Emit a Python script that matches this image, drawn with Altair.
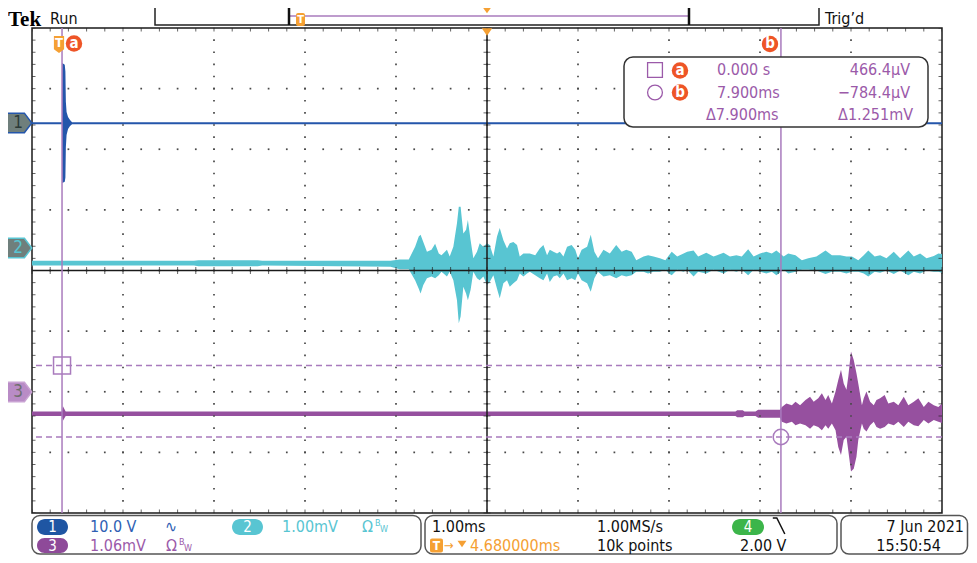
import altair as alt
import pandas as pd

# ---------------- values ----------------
T_LEFT, T_RIGHT = -0.33, 9.67          # ms at left / right edge of the graticule
DIV_LO, DIV_HI = -4, 4                 # vertical divisions

CH1_POS, CH1_SCALE = 2.434, 10.0       # position (div), V/div
CH2_POS, CH2_SCALE = 0.371, 1.00       # position (div), mV/div
CH3_POS, CH3_SCALE = -2.005, 1.06      # position (div), mV/div

# Channel 1 (V) - envelope of the displayed trace
ch1_t = [-0.33, 0.000, 0.002, 0.030, 0.037, 0.042, 0.050, 0.066, 0.088, 0.110, 9.67]
ch1_hi = [0.1, 0.1, 9.9, 9.6, 8.5, 3.5, 1.8, 1.0, 0.5, 0.1, 0.1]
ch1_lo = [-0.2, -0.2, -9.9, -9.7, -9.0, -4.0, -2.0, -1.0, -0.5, -0.2, -0.2]

# Channel 2 (mV) - envelope
ch2_t = [-0.33, 1.45, 1.50, 2.15, 2.20, 3.61, 3.71, 3.81, 3.88, 3.92, 3.94, 3.97, 4.01, 4.06,
         4.10, 4.14, 4.17, 4.23, 4.26, 4.30, 4.34, 4.36, 4.38, 4.41, 4.44, 4.46, 4.49, 4.52,
         4.56, 4.59, 4.63, 4.67, 4.70, 4.74, 4.78, 4.81, 4.85, 4.89, 4.92, 4.96, 5.00, 5.03,
         5.07, 5.11, 5.14, 5.20, 5.25, 5.29, 5.33, 5.36, 5.40, 5.44, 5.47, 5.51, 5.55, 5.60,
         5.64, 5.67, 5.71, 5.77, 5.81, 5.85, 5.89, 5.95, 6.02, 6.09, 6.15, 6.20, 6.26, 6.31,
         6.39, 6.44, 6.50, 6.57, 6.63, 6.67, 6.70, 6.76, 6.83, 6.87, 6.94, 6.99, 7.08, 7.16,
         7.27, 7.34, 7.41, 7.47, 7.54, 7.60, 7.67, 7.74, 7.80, 7.85, 7.93, 7.98, 8.06, 8.13,
         8.20, 8.29, 8.39, 8.46, 8.55, 8.62, 8.68, 8.75, 8.81, 8.86, 8.93, 8.99, 9.06, 9.14,
         9.21, 9.30, 9.36, 9.43, 9.50, 9.58, 9.63, 9.67]
ch2_hi = [-0.21, -0.21, -0.20, -0.20, -0.21, -0.21, -0.19, -0.19, 0.02, 0.19, 0.22, 0.10, -0.06, -0.03,
          0.07, -0.09, -0.12, -0.03, -0.14, 0.02, 0.41, 0.68, 0.68, 0.24, 0.30, 0.46, 0.13, -0.17,
          -0.06, 0.08, 0.02, 0.08, 0.05, -0.14, 0.19, 0.33, 0.13, -0.01, 0.08, 0.10, 0.05, -0.14,
          -0.09, -0.09, -0.09, -0.12, -0.01, 0.05, -0.12, -0.03, -0.06, -0.09, -0.06, -0.14, 0.02, 0.05,
          -0.03, -0.17, -0.03, 0.02, 0.22, -0.06, -0.17, -0.03, -0.09, 0.05, -0.06, -0.03, -0.06, -0.20,
          -0.14, -0.12, -0.14, -0.17, -0.20, -0.12, -0.06, -0.14, -0.09, -0.06, -0.04, -0.14, -0.08, -0.14,
          -0.08, -0.14, -0.12, -0.14, -0.02, -0.14, -0.09, -0.06, -0.09, -0.04, -0.14, -0.09, -0.12, -0.20,
          -0.17, -0.14, -0.04, -0.12, -0.12, -0.14, -0.14, -0.20, -0.12, -0.04, -0.14, -0.12, -0.17, -0.06,
          -0.17, -0.04, -0.14, -0.09, -0.17, -0.13, -0.09, -0.10]
ch2_lo = [-0.29, -0.29, -0.30, -0.30, -0.29, -0.31, -0.35, -0.35, -0.53, -0.67, -0.75, -0.61, -0.50, -0.47,
          -0.50, -0.45, -0.39, -0.47, -0.39, -0.53, -0.86, -1.24, -1.13, -0.64, -0.75, -0.86, -0.69, -0.39,
          -0.50, -0.53, -0.47, -0.61, -0.56, -0.45, -0.67, -0.83, -0.58, -0.53, -0.64, -0.58, -0.53, -0.42,
          -0.47, -0.42, -0.39, -0.45, -0.50, -0.53, -0.42, -0.56, -0.47, -0.45, -0.50, -0.42, -0.53, -0.50,
          -0.53, -0.42, -0.53, -0.58, -0.72, -0.50, -0.39, -0.47, -0.45, -0.50, -0.45, -0.47, -0.45, -0.39,
          -0.39, -0.42, -0.39, -0.39, -0.36, -0.42, -0.45, -0.36, -0.39, -0.36, -0.47, -0.39, -0.42, -0.36,
          -0.42, -0.36, -0.39, -0.36, -0.45, -0.36, -0.39, -0.42, -0.39, -0.45, -0.36, -0.42, -0.39, -0.36,
          -0.36, -0.37, -0.43, -0.39, -0.39, -0.42, -0.39, -0.39, -0.42, -0.47, -0.39, -0.41, -0.37, -0.43,
          -0.37, -0.45, -0.39, -0.42, -0.37, -0.39, -0.39, -0.41]

# Channel 3 (mV) - envelope
ch3_t = [-0.33, 0.00, 0.01, 0.04, 7.40, 7.42, 7.48, 7.50, 7.62, 7.65, 7.89, 7.91, 7.96, 8.02,
         8.06, 8.11, 8.17, 8.22, 8.26, 8.31, 8.35, 8.39, 8.42, 8.46, 8.50, 8.53, 8.56, 8.59,
         8.62, 8.64, 8.67, 8.70, 8.73, 8.75, 8.79, 8.81, 8.84, 8.88, 8.92, 8.95, 8.99, 9.04,
         9.08, 9.14, 9.19, 9.25, 9.30, 9.36, 9.41, 9.47, 9.52, 9.58, 9.63, 9.67]
ch3_hi = [-0.34, -0.34, -0.25, -0.34, -0.34, -0.32, -0.32, -0.34, -0.34, -0.31, -0.31, -0.26, -0.20, -0.23,
          -0.17, -0.23, -0.14, -0.08, -0.17, -0.11, -0.02, -0.14, -0.05, -0.20, 0.01, 0.21, 0.39, 0.15,
          0.04, 0.27, 0.71, 0.56, 0.33, 0.15, -0.23, -0.11, 0.01, -0.17, -0.23, -0.14, -0.11, -0.05,
          -0.20, -0.17, -0.23, -0.08, -0.23, -0.17, -0.11, -0.26, -0.17, -0.23, -0.26, -0.20]
ch3_lo = [-0.42, -0.42, -0.50, -0.42, -0.42, -0.44, -0.44, -0.42, -0.42, -0.45, -0.45, -0.52, -0.55, -0.52,
          -0.58, -0.55, -0.58, -0.64, -0.58, -0.61, -0.67, -0.58, -0.64, -0.55, -0.67, -0.96, -1.10, -0.84,
          -0.78, -1.02, -1.39, -1.34, -1.13, -0.84, -0.55, -0.64, -0.69, -0.58, -0.52, -0.61, -0.64, -0.61,
          -0.55, -0.58, -0.52, -0.61, -0.52, -0.58, -0.60, -0.49, -0.55, -0.49, -0.52, -0.54]

# cursors: times (ms) and channel-3 levels (mV)
cursor_t = [0.0, 7.9]
cursor_v = [0.4664, -0.7844]

# ---------------- styling ----------------
FONT = "DejaVu Sans Condensed, Liberation Sans Narrow, DejaVu Sans, sans-serif"
BLUE, BLUE_DK = "#2456ab", "#1f56a3"
CYAN = "#58c5d2"
PURPLE, PURPLE_BADGE = "#96509f", "#8e4a99"
CURSOR = "#a97bbd"
READ = "#9b5aa9"
ORANGE = "#f5a033"
RED = "#ee5527"
GREEN = "#3cb54a"
OX, OY = 32, 28          # page position of the graticule's top-left corner
W, H = 910, 485
SVG_W, SVG_H = 961, 547  # drawable area inside the page's 8px margins

xs = alt.Scale(domain=[T_LEFT, T_RIGHT], nice=False, zero=False)
ys = alt.Scale(domain=[DIV_LO, DIV_HI], nice=False, zero=False)


def X(f="t"):
    return alt.X(f"{f}:Q", scale=xs, axis=None)


def Y(f="d"):
    return alt.Y(f"{f}:Q", scale=ys, axis=None)


def to_div(vals, pos, scale):
    return [pos + v / scale for v in vals]


def trace(t, hi, lo, pos, scale, color):
    df = pd.DataFrame({"t": t, "hi": to_div(hi, pos, scale), "lo": to_div(lo, pos, scale)})
    return alt.Chart(df).mark_area(color=color, opacity=1, interpolate="linear").encode(
        x=X(), y=Y("hi"), y2="lo:Q")


ONE = pd.DataFrame({"k": [0]})


def txt(s, x, y, color="#111", size=16, align="left", weight="normal", font=FONT, baseline="middle"):
    return alt.Chart(ONE).mark_text(text=s, align=align, baseline=baseline, fontSize=size,
                                    fontWeight=weight, font=font, color=color).encode(
        x=alt.value(x - OX), y=alt.value(y - OY))


def box(x0, y0, x1, y1, fill="white", stroke=None, sw=1.5, r=0):
    kw = dict(fill=fill, cornerRadius=r, opacity=1)
    if stroke:
        kw.update(stroke=stroke, strokeWidth=sw)
    return alt.Chart(ONE).mark_rect(**kw).encode(
        x=alt.value(x0 - OX), x2=alt.value(x1 - OX), y=alt.value(y0 - OY), y2=alt.value(y1 - OY))


def sym(shape, x, y, size, fill=None, stroke=None, sw=1.5):
    if fill:
        mk = alt.Chart(ONE).mark_point(shape=shape, size=size, filled=True, fill=fill, opacity=1,
                                       stroke=stroke or fill, strokeWidth=sw if stroke else 0)
    else:
        mk = alt.Chart(ONE).mark_point(shape=shape, size=size, filled=False, stroke=stroke,
                                       strokeWidth=sw, opacity=1)
    return mk.encode(x=alt.value(x - OX), y=alt.value(y - OY))


def line(x0, y0, x1, y1, color, sw=1.5):
    return alt.Chart(ONE).mark_rule(color=color, strokeWidth=sw).encode(
        x=alt.value(x0 - OX), x2=alt.value(x1 - OX), y=alt.value(y0 - OY), y2=alt.value(y1 - OY))


layers = []

# traces
layers.append(trace(ch2_t, ch2_hi, ch2_lo, CH2_POS, CH2_SCALE, CYAN))
layers.append(trace(ch3_t, ch3_hi, ch3_lo, CH3_POS, CH3_SCALE, PURPLE))
layers.append(trace(ch1_t, ch1_hi, ch1_lo, CH1_POS, CH1_SCALE, BLUE))

# graticule: dotted major lines, solid centre lines with minor ticks, edge ticks
major_t = [round(T_LEFT + k, 3) for k in range(1, 10)]
major_d = [k for k in range(-3, 4)]
minor_t = [round(T_LEFT + 0.2 * k, 3) for k in range(51)]
minor_d = [round(DIV_LO + 0.2 * k, 2) for k in range(41)]
T_CENTER = round(T_LEFT + 5, 3)

dots = pd.DataFrame([(t, d) for t in major_t for d in minor_d] +
                    [(t, d) for d in major_d for t in minor_t], columns=["t", "d"])
layers.append(alt.Chart(dots).mark_square(size=3, color="#4a4a4a", opacity=1).encode(x=X(), y=Y()))
layers.append(alt.Chart(pd.DataFrame({"t": [T_CENTER]})).mark_rule(color="#1a1a1a", strokeWidth=1.5)
              .encode(x=X()))
layers.append(alt.Chart(pd.DataFrame({"d": [0]})).mark_rule(color="#1a1a1a", strokeWidth=1.5)
              .encode(y=Y()))
layers.append(alt.Chart(pd.DataFrame({"t": minor_t, "d": 0})).mark_tick(
    orient="vertical", size=7, thickness=1, color="#222").encode(x=X(), y=Y()))
layers.append(alt.Chart(pd.DataFrame({"t": T_CENTER, "d": minor_d})).mark_tick(
    orient="horizontal", size=7, thickness=1, color="#222").encode(x=X(), y=Y()))
edge_h = pd.DataFrame({"t": minor_t * 2, "d": [DIV_HI] * 51 + [DIV_LO] * 51})
edge_v = pd.DataFrame({"t": [T_LEFT] * 41 + [T_RIGHT] * 41, "d": minor_d * 2})
layers.append(alt.Chart(edge_h).mark_tick(orient="vertical", size=7, thickness=1, color="#222",
                                          clip=True).encode(x=X(), y=Y()))
layers.append(alt.Chart(edge_v).mark_tick(orient="horizontal", size=7, thickness=1, color="#222",
                                          clip=True).encode(x=X(), y=Y()))

# cursors
cur_d = to_div(cursor_v, CH3_POS, CH3_SCALE)
layers.append(alt.Chart(pd.DataFrame({"t": cursor_t})).mark_rule(color=CURSOR, strokeWidth=1.5)
              .encode(x=X()))
layers.append(alt.Chart(pd.DataFrame({"d": cur_d})).mark_rule(color=CURSOR, strokeWidth=1.5,
                                                               strokeDash=[6, 4]).encode(y=Y()))
layers.append(alt.Chart(pd.DataFrame({"t": [cursor_t[0]], "d": [cur_d[0]]})).mark_point(
    shape="square", size=289, filled=False, stroke=CURSOR, strokeWidth=1.5, opacity=1).encode(x=X(), y=Y()))
layers.append(alt.Chart(pd.DataFrame({"t": [cursor_t[1]], "d": [cur_d[1]]})).mark_point(
    shape="circle", size=240, filled=False, stroke=CURSOR, strokeWidth=1.5, opacity=1).encode(x=X(), y=Y()))

# channel ground markers on the left
MARK = "M-1,-0.8L0.4,-0.8L1,0L0.4,0.8L-1,0.8Z"
for pos, name, fill, stroke, tcol in [(CH1_POS, "1", "#6f7f7c", BLUE, "#2b3a38"),
                                      (CH2_POS, "2", "#6f7f7c", CYAN, CYAN),
                                      (CH3_POS, "3", "#b98cc6", "#c9a3d3", "#6f6f6f")]:
    dfm = pd.DataFrame({"d": [pos]})
    layers.append(alt.Chart(dfm).mark_point(shape=MARK, size=600, filled=True, fill=fill, stroke=stroke,
                                            strokeWidth=1.5, opacity=1).encode(
        x=alt.value(19.5 - OX), y=Y()))
    layers.append(alt.Chart(dfm).mark_text(text=name, fontSize=17, font=FONT, color=tcol,
                                           align="center", baseline="middle").encode(
        x=alt.value(18 - OX), y=Y()))

# trigger flag + cursor labels at top of graticule
FLAG = "M-0.6,-1L0.6,-1L0.6,0.55L0,1L-0.6,0.55Z"
layers.append(sym(FLAG, 59, 44.5, 289, fill=ORANGE))
layers.append(txt("T", 59, 43, "white", size=13, align="center", weight="bold"))
layers.append(sym("circle", 74, 43.5, 270, fill=RED))
layers.append(txt("a", 74, 42.5, "white", size=15, align="center", weight="bold"))
layers.append(sym("circle", 770, 44, 270, fill=RED))
layers.append(txt("b", 770, 43, "white", size=15, align="center", weight="bold"))
TRI = "M-1,-0.7L1,-0.7L0,0.7Z"
layers.append(sym(TRI, 487, 32, 110, fill=ORANGE))

# cursor readout box
layers.append(box(624, 57, 928, 127, fill="white", stroke="#333", sw=1.5, r=9))
layers.append(sym("square", 655, 70, 220, stroke=READ, sw=1.3))
layers.append(sym("circle", 655, 92.5, 220, stroke=READ, sw=1.3))
layers.append(sym("circle", 680, 70.5, 270, fill=RED))
layers.append(txt("a", 680, 69.5, "white", size=15, align="center", weight="bold"))
layers.append(sym("circle", 680, 92.5, 270, fill=RED))
layers.append(txt("b", 680, 91.5, "white", size=15, align="center", weight="bold"))
layers.append(txt("0.000 s", 717, 70, READ))
layers.append(txt("7.900ms", 717, 92.5, READ))
layers.append(txt("\u0394" + "7.900ms", 706, 115, READ))
layers.append(txt("466.4\u00b5V", 910, 70, READ, align="right"))
layers.append(txt("\u2212784.4\u00b5V", 910, 92.5, READ, align="right"))
layers.append(txt("\u0394" + "1.251mV", 913, 115, READ, align="right"))

# top status line
layers.append(txt("Tek", 8, 25.5, "#000", size=21, weight="bold",
                  font="Liberation Serif, DejaVu Serif, serif", baseline="alphabetic"))
layers.append(txt("Run", 50, 23.5, "#111", size=16, baseline="alphabetic"))
layers.append(box(155, 7, 819, 25, fill="white", stroke="#222", sw=1.5))
layers.append(line(290, 16, 689, 16, CURSOR, 1.5))
layers.append(line(289, 7, 289, 25, "#111", 2.5))
layers.append(line(689, 7, 689, 25, "#111", 2.5))
layers.append(box(296, 13, 305, 26, fill=ORANGE, r=2))
layers.append(txt("T", 300.5, 19.5, "white", size=11, align="center", weight="bold"))
layers.append(sym(TRI, 487, 10, 90, fill=ORANGE))
layers.append(txt("Trig\u2019d", 825, 23.5, "#111", size=16, baseline="alphabetic"))

# bottom status boxes (fit inside the page's drawable area)
BY0, BY1 = 515.5, 554
R1, R2 = 527, 545.5
layers.append(box(32, BY0, 421, BY1, fill="white", stroke="#555", sw=1.5, r=8))
layers.append(box(425, BY0, 837, BY1, fill="white", stroke="#555", sw=1.5, r=8))
layers.append(box(841, BY0, 967.5, BY1, fill="white", stroke="#555", sw=1.5, r=8))

layers.append(box(37, R1 - 8, 68, R1 + 8, fill=BLUE_DK, r=8))
layers.append(txt("1", 52.5, R1, "white", size=15, align="center"))
layers.append(txt("10.0 V", 90, R1, "#2f5fb4"))
layers.append(txt("\u223f", 171, R1, "#2f5fb4", size=16, align="center"))
layers.append(box(232, R1 - 8, 263, R1 + 8, fill=CYAN, r=8))
layers.append(txt("2", 247.5, R1, "white", size=15, align="center"))
layers.append(txt("1.00mV", 282, R1, CYAN))
layers.append(txt("\u03a9", 362, R1, CYAN))
layers.append(txt("B", 375, R1 - 4, CYAN, size=9))
layers.append(txt("W", 380, R1 + 2, CYAN, size=9))

layers.append(box(37, R2 - 7.5, 68, R2 + 7.5, fill=PURPLE_BADGE, r=8))
layers.append(txt("3", 52.5, R2, "white", size=15, align="center"))
layers.append(txt("1.06mV", 90, R2, READ))
layers.append(txt("\u03a9", 166, R2, READ))
layers.append(txt("B", 179, R2 - 4, READ, size=9))
layers.append(txt("W", 184, R2 + 2, READ, size=9))

layers.append(txt("1.00ms", 432, R1, "#111"))
layers.append(txt("1.00MS/s", 597, R1, "#111"))
layers.append(box(732, R1 - 8, 764, R1 + 8, fill=GREEN, r=8))
layers.append(txt("4", 748, R1, "white", size=15, align="center"))
layers.append(sym("M-0.9,-1L-0.4,-1L0.6,1", 780, R1 - 1, 256, stroke="#111", sw=1.5))
layers.append(box(430, R2 - 7, 443, R2 + 7, fill=ORANGE, r=2))
layers.append(txt("T", 436.5, R2, "white", size=12, align="center", weight="bold"))
layers.append(txt("\u2192", 444, R2, ORANGE, size=13))
layers.append(sym(TRI, 462, R2 - 1.5, 80, fill=ORANGE))
layers.append(txt("4.680000ms", 470, R2, ORANGE))
layers.append(txt("10k points", 597, R2, "#111"))
layers.append(txt("2.00 V", 740, R2, "#111"))

layers.append(txt("7 Jun  2021", 964, R1, "#111", align="right"))
layers.append(txt("15:50:54", 941, R2, "#111", align="right"))

chart = alt.layer(*layers).properties(
    width=W, height=H,
    autosize=alt.AutoSizeParams(type="none"),
    padding={"left": OX - 8, "top": OY - 8, "right": SVG_W - (OX - 8) - W, "bottom": SVG_H - (OY - 8) - H},
    background="white",
).configure_view(stroke="#1a1a1a", strokeWidth=1.5)

chart.save("out.html", embed_options={"renderer": "svg", "actions": False})
